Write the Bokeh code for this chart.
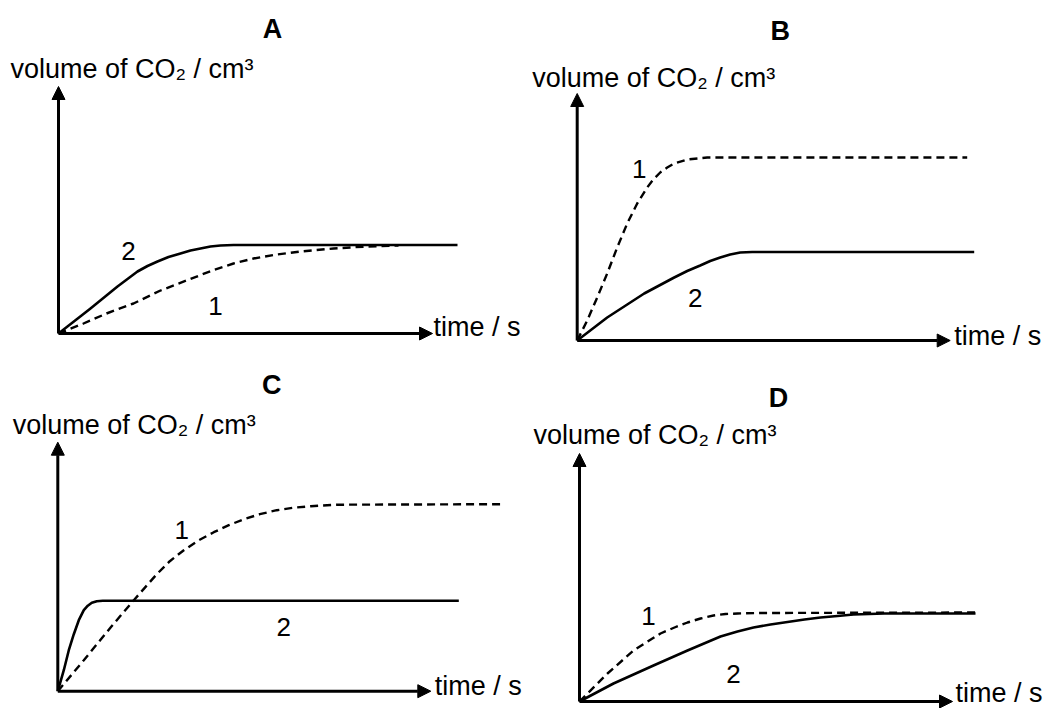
from bokeh.plotting import figure
from bokeh.layouts import column, row
from bokeh.models import Arrow, NormalHead, Range1d
from bokeh.core.properties import value
from bokeh.embed import file_html
from bokeh.resources import INLINE

# ---------------- data (time / arbitrary units, volume / arbitrary units) ----------------
# Panel A
a_t1 = [0, 2.5, 4.8, 7.5, 10.2, 12.8, 15.5, 17.5, 19.5, 21.8, 24.2, 27.5, 30.8, 34.0]
a_v1 = [0, 1.0, 2.0, 3.0, 4.3, 5.3, 6.35, 7.0, 7.5, 7.9, 8.2, 8.5, 8.7, 8.8]
a_t2 = [0, 3.2, 5.9, 7.9, 8.9, 9.9, 11.0, 12.2, 13.2, 14.2, 15.2, 16.2, 17.5, 39.9]
a_v2 = [0, 2.5, 4.7, 6.2, 6.75, 7.2, 7.65, 8.0, 8.3, 8.5, 8.7, 8.8, 8.85, 8.85]
# Panel B
b_t1 = [0, 1.0, 2.0, 3.0, 4.0, 5.0, 6.0, 7.0, 7.6, 8.3, 9.0, 9.7, 11.0, 13.0, 39.0]
b_v1 = [0, 2.0, 4.3, 6.7, 9.3, 11.7, 13.7, 15.3, 16.1, 16.8, 17.3, 17.7, 18.1, 18.3, 18.3]
b_t2 = [0, 3.0, 6.7, 9.7, 11.0, 12.3, 13.3, 14.3, 15.3, 16.3, 17.5, 39.7]
b_v2 = [0, 2.3, 4.7, 6.3, 6.95, 7.5, 7.95, 8.3, 8.6, 8.8, 8.85, 8.85]
# Panel C
c_t1 = [0, 2.6, 5.3, 7.6, 9.9, 11.2, 12.6, 14.1, 15.6, 17.1, 18.6, 20.2, 21.9, 23.6, 25.3, 28.0, 44.3]
c_v1 = [0, 3.1, 6.4, 9.1, 11.7, 13.0, 14.1, 15.1, 15.9, 16.6, 17.2, 17.7, 18.1, 18.35, 18.5, 18.65, 18.7]
c_t2 = [0, 0.6, 1.1, 1.6, 2.1, 2.6, 3.0, 3.4, 3.9, 4.5, 40.1]
c_v2 = [0, 2.1, 4.1, 5.7, 7.1, 8.1, 8.55, 8.85, 9.0, 9.05, 9.05]
# Panel D
d_t1 = [0, 2.8, 5.4, 8.1, 9.5, 10.8, 12.1, 13.4, 14.6, 15.8, 18.0, 39.6]
d_v1 = [0, 2.8, 5.1, 6.8, 7.4, 7.9, 8.3, 8.6, 8.75, 8.8, 8.85, 8.9]
d_t2 = [0, 3.4, 7.4, 10.8, 14.1, 15.8, 17.4, 19.1, 20.8, 22.5, 24.1, 25.8, 27.4, 30.5, 39.6]
d_v2 = [0, 1.8, 3.6, 5.1, 6.5, 7.0, 7.4, 7.7, 7.95, 8.2, 8.4, 8.55, 8.7, 8.8, 8.8]

panel_letters = ["A", "B", "C", "D"]
y_label = "volume of CO\u2082 / cm\u00b3"
x_label = "time / s"
curve_labels = ["1", "2"]

FONT = value("Liberation Sans")
PX = 10.0  # pixels per data unit


def make_panel(w, h, ox, oy, letter, title_xy, ylab_xy, xlab_xy, x_tip, y_tip,
               t1, v1, t2, v2, lab1_xy, lab2_xy):
    p = figure(width=w, height=h,
               x_range=Range1d(-ox / PX, (w - ox) / PX),
               y_range=Range1d(-(h - oy) / PX, oy / PX),
               output_backend="svg", toolbar_location=None,
               x_axis_location=None, y_axis_location=None,
               min_border=0, outline_line_color=None,
               background_fill_color="white", border_fill_color="white")
    p.grid.visible = False

    # axes drawn as arrows
    for xe, ye in [(x_tip, 0), (0, y_tip)]:
        p.add_layout(Arrow(end=NormalHead(size=13, fill_color="black", line_color="black", line_width=1),
                           x_start=0, y_start=0, x_end=xe, y_end=ye,
                           line_width=3, line_color="black"))

    # curves
    p.line(t1, v1, line_dash="8 5", line_width=2.4, line_color="black")
    p.line(t2, v2, line_width=2.6, line_color="black", line_join="round")

    # texts
    p.text(x=[title_xy[0]], y=[title_xy[1]], text=[letter], text_font=FONT,
           text_font_size="27px", text_font_style="bold", text_color="black",
           text_align="center", text_baseline="middle")
    p.text(x=[ylab_xy[0]], y=[ylab_xy[1]], text=[y_label], text_font=FONT,
           text_font_size="27px", text_color="black",
           text_align="left", text_baseline="middle")
    p.text(x=[xlab_xy[0]], y=[xlab_xy[1]], text=[x_label], text_font=FONT,
           text_font_size="27px", text_color="black",
           text_align="left", text_baseline="middle")
    p.text(x=[lab1_xy[0], lab2_xy[0]], y=[lab1_xy[1], lab2_xy[1]], text=curve_labels,
           text_font=FONT, text_font_size="26px", text_color="black",
           text_align="center", text_baseline="middle")
    return p


pA = make_panel(522, 354, 58.0, 333.0, panel_letters[0], (21.4, 30.5), (-4.8, 26.45), (37.5, 0.65),
                37.4, 24.7, a_t1, a_v1, a_t2, a_v2, (15.7, 2.8), (7.0, 8.3))
pB = make_panel(523, 354, 54.7, 340.0, panel_letters[1], (20.3, 31.0), (-4.5, 26.25), (37.7, 0.45),
                37.3, 24.7, b_t1, b_v1, b_t2, b_v2, (6.2, 17.2), (11.8, 4.3))
pC = make_panel(522, 354, 57.3, 336.7, panel_letters[2], (21.4, 30.6), (-4.5, 26.6), (37.7, 0.5),
                37.3, 24.9, c_t1, c_v1, c_t2, c_v2, (12.4, 16.1), (22.6, 6.4))
pD = make_panel(523, 354, 57.0, 347.0, panel_letters[3], (19.9, 30.4), (-4.6, 26.7), (37.6, 0.9),
                37.3, 24.8, d_t1, d_v1, d_t2, d_v2, (6.9, 8.6), (15.4, 2.8))

layout = column(row(pA, pB), row(pC, pD))
open("out.html", "w").write(file_html(layout, INLINE))
